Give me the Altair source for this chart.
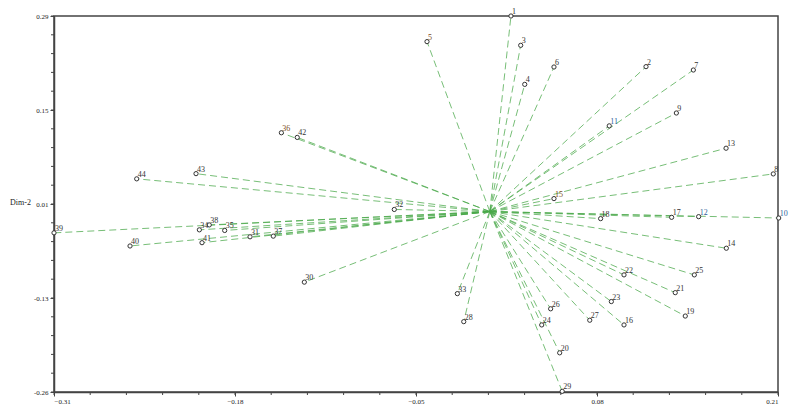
import altair as alt
import pandas as pd

labels = [str(i) for i in range(1, 45)]
xs = [0.0182, 0.1152, 0.0252, 0.0281, -0.0421, 0.0491, 0.1492, 0.2066, 0.1370, 0.2105,
      0.0888, 0.1530, 0.1727, 0.1729, 0.0491, 0.0994, 0.1336, 0.0826, 0.1434, 0.0532,
      0.1362, 0.0994, 0.0903, 0.0403, 0.1499, 0.0467, 0.0748, -0.0157, 0.0550, -0.1302,
      -0.1692, -0.0656, -0.0203, -0.2056, -0.1874, -0.1467, -0.1525, -0.1985, -0.3100, -0.2554,
      -0.2037, -0.1353, -0.2080, -0.2506]
ys = [0.2900, 0.2159, 0.2471, 0.1900, 0.2525, 0.2154, 0.2110, 0.0590, 0.1481, -0.0055,
      0.1293, -0.0035, 0.0966, -0.0497, 0.0229, -0.1619, -0.0045, -0.0064, -0.1489, -0.2027,
      -0.1147, -0.0887, -0.1277, -0.1619, -0.0887, -0.1383, -0.1550, -0.1571, -0.2590, -0.0993,
      -0.0330, 0.0070, -0.1161, -0.0228, -0.0237, 0.1192, -0.0320, -0.0156, -0.0272, -0.0464,
      -0.0416, 0.1124, 0.0594, 0.0518]
label_colors = ["#333333"] * 44
for i in (10, 11, 12):
    label_colors[i - 1] = "#2d5f9a"
for i in (5, 15, 36):
    label_colors[i - 1] = "#7a4a1a"

origin = (0.003, 0.004)
x_ticks = [-0.31, -0.18, -0.05, 0.08, 0.21]
y_tick_labels = ["-0.26", "-0.13", "0.01", "0.15", "0.29"]
y_ticks = [-0.26 + k * 0.1375 for k in range(5)]
x_minor = [-0.31 + k * 0.026 for k in range(21)]
y_minor = [-0.26 + k * 0.0275 for k in range(21)]

W, H = 724, 376

df = pd.DataFrame({"label": labels, "x": xs, "y": ys, "lc": label_colors,
                   "x0": origin[0], "y0": origin[1]})
dfxm = pd.DataFrame({"v": x_minor})
dfym = pd.DataFrame({"v": y_minor})

xscale = alt.Scale(domain=[-0.31, 0.21], nice=False, zero=False)
yscale = alt.Scale(domain=[-0.26, 0.29], nice=False, zero=False)

yexpr = ""
for v, t in zip(y_ticks[:-1], y_tick_labels[:-1]):
    yexpr += f"datum.value < {v + 0.05} ? '{t}' : "
yexpr += f"'{y_tick_labels[-1]}'"

axis_common = dict(domainColor="#444", domainWidth=1.5, tickColor="#444", tickWidth=1,
                   labelFont="Liberation Serif", labelFontSize=7, labelColor="#222", grid=False)

base = alt.Chart(df)

rules = base.mark_rule(color="#4aa84a", strokeDash=[7, 4], strokeWidth=1, opacity=0.75).encode(
    x=alt.X("x0:Q", scale=xscale, axis=alt.Axis(values=x_ticks, format=".2f", tickSize=4,
                                               title=None, labelPadding=1, **axis_common)),
    y=alt.Y("y0:Q", scale=yscale, axis=alt.Axis(values=y_ticks, labelExpr=yexpr, tickSize=4,
                                               title="Dim-2", titleAngle=0, titleX=-34, titleY=186,
                                               titleAlign="center", titleBaseline="middle",
                                               titleFont="Liberation Serif", titleFontSize=8,
                                               titleFontWeight="normal", titleColor="#222",
                                               labelPadding=2, **axis_common)),
    x2="x:Q",
    y2="y:Q",
)

xminor = alt.Chart(dfxm).mark_rule(color="#444", strokeWidth=1).encode(
    x=alt.X("v:Q", scale=xscale), y=alt.value(H), y2=alt.value(H + 3))
yminor = alt.Chart(dfym).mark_rule(color="#444", strokeWidth=1).encode(
    y=alt.Y("v:Q", scale=yscale), x=alt.value(0), x2=alt.value(-3))

points = base.mark_point(shape="circle", size=18, filled=False, stroke="#333", strokeWidth=1,
                         fill="white", fillOpacity=1).encode(x="x:Q", y="y:Q")

text = base.mark_text(align="left", baseline="bottom", dx=1, dy=0, font="Liberation Serif",
                      fontSize=8).encode(x="x:Q", y="y:Q", text="label:N",
                                         color=alt.Color("lc:N", scale=None))

chart = alt.layer(rules, xminor, yminor, points, text).properties(
    width=W, height=H,
    autosize=alt.AutoSizeParams(type="none"),
    padding={"left": 46, "top": 8, "right": 14, "bottom": 12},
).configure_view(stroke="#444", strokeWidth=1.5)

chart.save("out.html", embed_options={"renderer": "svg", "actions": False})
